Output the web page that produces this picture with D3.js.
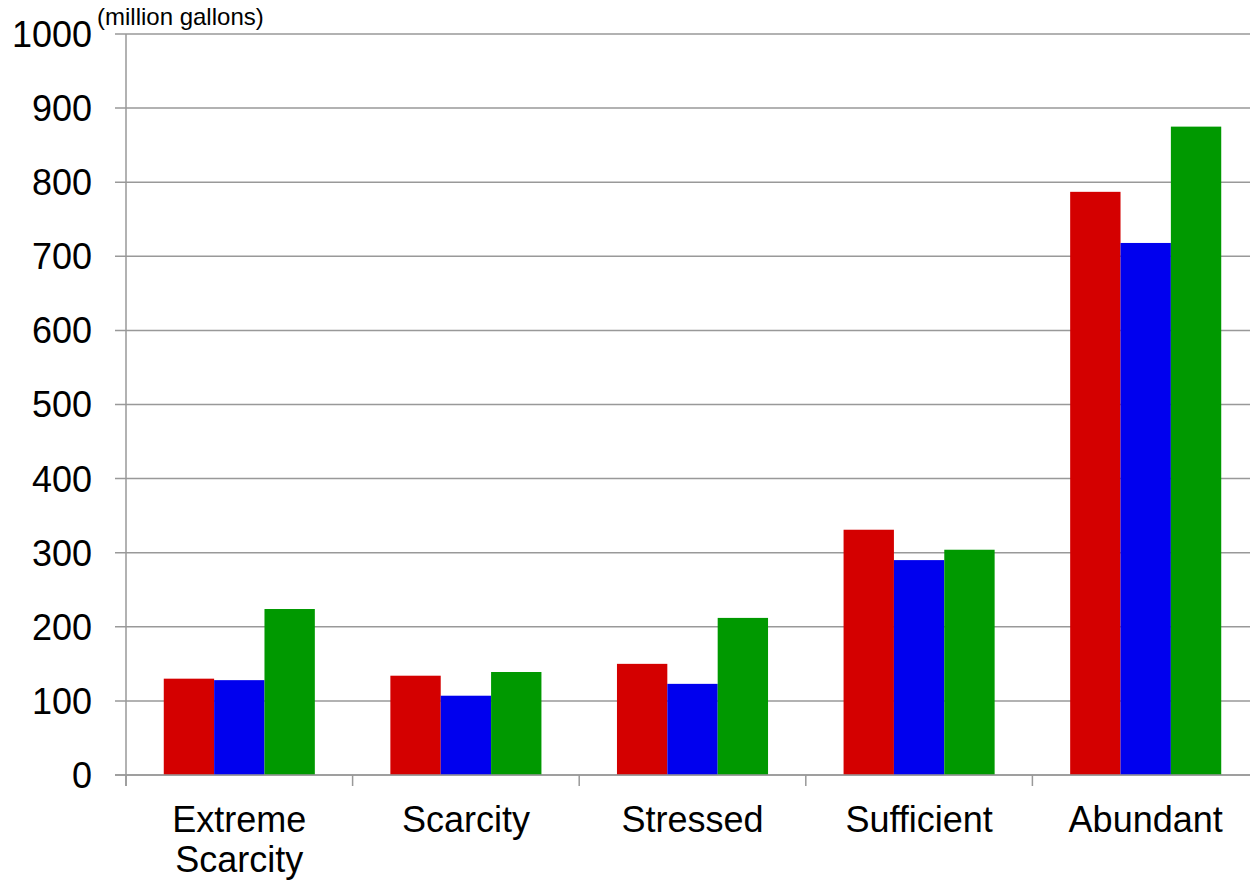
<!DOCTYPE html>
<html>
<head>
<meta charset="utf-8">
<script src="https://cdn.jsdelivr.net/npm/d3@7"></script>
<style>
  html, body { margin: 0; padding: 0; background: #fff; }
  svg { display: block; font-family: "Liberation Sans", Arial, sans-serif; }
</style>
</head>
<body>
<svg id="chart" width="1250" height="882"></svg>
<script>
// Water volume by availability class, three series
const categories = [["Extreme", "Scarcity"], ["Scarcity"], ["Stressed"], ["Sufficient"], ["Abundant"]];
const categoryKeys = ["Extreme Scarcity", "Scarcity", "Stressed", "Sufficient", "Abundant"];
const seriesNames = ["s1", "s2", "s3"];
const seriesColors = ["#D40000", "#0000EE", "#009900"];
const series1 = [130, 134, 150, 331, 787];
const series2 = [128, 107, 123, 290, 718];
const series3 = [224, 139, 212, 304, 875];
const yTicks = [0, 100, 200, 300, 400, 500, 600, 700, 800, 900, 1000];
const unitLabel = "(million gallons)";

const seriesValues = [series1, series2, series3];

const svg = d3.select("#chart");
const plotLeft = 126, plotRight = 1259, plotTop = 34, plotBottom = 775;

const x = d3.scaleBand().domain(categoryKeys).range([plotLeft, plotRight]).paddingInner(0).paddingOuter(0);
const xInner = d3.scaleBand().domain(seriesNames).range([0, x.bandwidth()]).paddingInner(0).paddingOuter(0.75);
const y = d3.scaleLinear().domain([0, 1000]).range([plotBottom, plotTop]);

const gridColor = "#999999";

// horizontal gridlines with left tick stubs
svg.append("g").selectAll("line").data(yTicks).join("line")
  .attr("x1", plotLeft - 11).attr("x2", 1250)
  .attr("y1", d => y(d)).attr("y2", d => y(d))
  .attr("stroke", gridColor).attr("stroke-width", 1.5);

// y axis labels
svg.append("g").selectAll("text").data(yTicks).join("text")
  .attr("x", 92).attr("y", d => y(d))
  .attr("dy", "0.36em")
  .attr("text-anchor", "end")
  .attr("font-size", 36)
  .attr("fill", "#000")
  .text(d => d);

// unit label
svg.append("text")
  .attr("x", 97).attr("y", 25)
  .attr("font-size", 24)
  .attr("fill", "#000")
  .text(unitLabel);

// bars
const groups = svg.append("g").selectAll("g").data(categoryKeys).join("g")
  .attr("transform", d => `translate(${x(d)},0)`);

groups.selectAll("rect")
  .data((d, i) => seriesNames.map((s, j) => ({ s, v: seriesValues[j][i], c: seriesColors[j] })))
  .join("rect")
  .attr("x", d => xInner(d.s))
  .attr("width", xInner.bandwidth())
  .attr("y", d => y(d.v))
  .attr("height", d => y(0) - y(d.v))
  .attr("fill", d => d.c);

// y axis line
svg.append("line")
  .attr("x1", plotLeft).attr("x2", plotLeft)
  .attr("y1", plotTop).attr("y2", plotBottom + 11)
  .attr("stroke", gridColor).attr("stroke-width", 1.5);

// baseline
svg.append("line")
  .attr("x1", plotLeft - 11).attr("x2", 1250)
  .attr("y1", plotBottom).attr("y2", plotBottom)
  .attr("stroke", gridColor).attr("stroke-width", 1.5);

// category boundary ticks
const boundaries = categoryKeys.map(k => x(k)).concat([plotRight]);
svg.append("g").selectAll("line").data(boundaries).join("line")
  .attr("x1", d => d).attr("x2", d => d)
  .attr("y1", plotBottom).attr("y2", plotBottom + 11)
  .attr("stroke", gridColor).attr("stroke-width", 1.5);

// category labels
svg.append("g").selectAll("text").data(categoryKeys).join("text")
  .attr("x", d => x(d) + x.bandwidth() / 2)
  .attr("y", 832)
  .attr("text-anchor", "middle")
  .attr("font-size", 36)
  .attr("fill", "#000")
  .each(function(d, i) {
    const t = d3.select(this);
    categories[i].forEach((line, k) => {
      t.append("tspan")
        .attr("x", x(d) + x.bandwidth() / 2)
        .attr("dy", k === 0 ? 0 : 40)
        .text(line);
    });
  });
</script>
</body>
</html>
